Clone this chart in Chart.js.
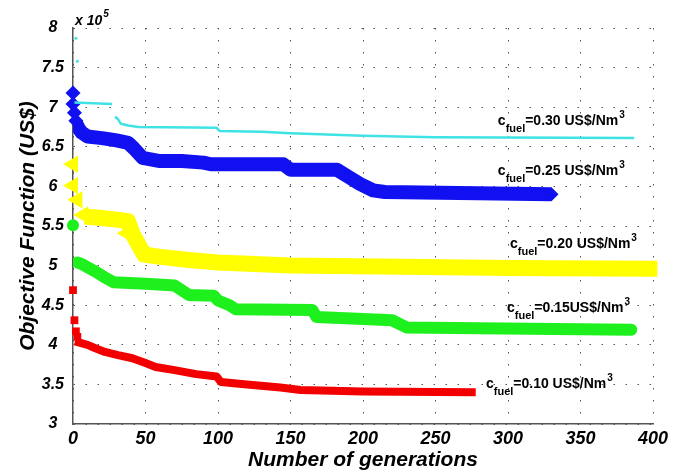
<!DOCTYPE html>
<html><head><meta charset="utf-8">
<script src="https://cdn.jsdelivr.net/npm/chart.js@4/dist/chart.umd.min.js"></script>
<style>html,body{margin:0;padding:0;background:#fff}canvas{display:block}</style>
</head><body>
<canvas id="c" width="674" height="474"></canvas>
<script>
// ---- axes ----
const xMin = 0, xMax = 400, xStep = 50;
const yMin = 3, yMax = 8, yStep = 0.5;
const xTitle = 'Number of generations';
const yTitle = 'Objective Function (US$)';
const yExponent = '5';

// ---- series (generation, objective value x10^5) ----
const seriesNames = ['0.30 US$/Nm', '0.25 US$/Nm', '0.20 US$/Nm', '0.15US$/Nm', '0.10 US$/Nm'];

const cyanGen = [1, 27, 28, 29, 31, 33, 38, 45, 99, 101, 130, 150, 200, 250, 387];
const cyanVal = [7.06, 7.04, null, 6.88, 6.85, 6.79, 6.77, 6.75, 6.74, 6.70, 6.69, 6.67, 6.64, 6.62, 6.61];
const cyanDotGen = [2, 3];
const cyanDotVal = [7.87, 7.58];

const blueGen = [2, 4, 6, 10, 20, 30, 38, 42, 48, 60, 75, 90, 95, 145, 150, 182, 190, 198, 207, 215, 330];
const blueVal = [6.80, 6.73, 6.68, 6.63, 6.61, 6.58, 6.55, 6.48, 6.36, 6.32, 6.32, 6.30, 6.28, 6.28, 6.21, 6.21, 6.12, 6.03, 5.95, 5.93, 5.90];
const blueStartGen = [0, 0, 1, 2];
const blueStartVal = [7.18, 7.04, 6.93, 6.83];

const yellowGen = [8, 20, 30, 38, 41, 45, 49, 60, 80, 100, 150, 212, 300, 403];
const yellowVal = [5.62, 5.60, 5.58, 5.56, 5.40, 5.27, 5.14, 5.11, 5.07, 5.04, 5.00, 4.99, 4.97, 4.96];
const yellowStartGen = [0, 0, 3, 7, 37];
const yellowStartVal = [6.28, 6.01, 5.83, 5.64, 5.41];

const greenGen = [3, 6, 10, 16, 22, 28, 50, 70, 75, 80, 97, 100, 108, 112, 165, 168, 220, 230, 280, 385];
const greenVal = [5.04, 5.02, 4.98, 4.92, 4.85, 4.79, 4.77, 4.75, 4.69, 4.63, 4.62, 4.56, 4.50, 4.45, 4.44, 4.35, 4.31, 4.22, 4.21, 4.19];
const greenStartGen = [0];
const greenStartVal = [5.51];

const redGen = [4, 10, 15, 22, 31, 41, 50, 57, 70, 85, 99, 102, 120, 143, 157, 200, 275];
const redVal = [4.03, 4.00, 3.96, 3.91, 3.87, 3.83, 3.77, 3.72, 3.68, 3.63, 3.60, 3.53, 3.50, 3.46, 3.43, 3.41, 3.40];
const redStartGen = [0, 1, 2, 3];
const redStartVal = [4.69, 4.31, 4.17, 4.10];

// label anchors in data space (generation, value)
const labelGen = [293, 293, 301.4, 299.3, 284.8];
const labelVal = [6.775, 6.144, 5.222, 4.42, 3.455];

const pts = (g, v) => g.map((x, i) => ({x: x, y: v[i]}));

const FONT = '"Liberation Sans", Arial, Helvetica, sans-serif';
Chart.defaults.font.family = FONT;
Chart.defaults.color = '#000';

const lineDs = (g, v, color, w, cap, extra) => Object.assign({
  type: 'line', data: pts(g, v), borderColor: color, backgroundColor: color,
  borderWidth: w, borderCapStyle: cap, borderJoinStyle: 'round', tension: 0,
  pointRadius: 0, spanGaps: false, fill: false
}, extra || {});
const markDs = (g, v, color, style, r, rot) => ({
  type: 'line', data: pts(g, v), showLine: false, pointStyle: style, pointRadius: r,
  pointRotation: rot || 0, pointBackgroundColor: color, pointBorderColor: color,
  pointBorderWidth: 0, clip: false
});

const C_CYAN = '#3fe3e6', C_BLUE = '#1010f0', C_YEL = '#ffff00', C_GRN = '#1ef01e', C_RED = '#f20000';

const annot = {
  id: 'annot',
  afterDatasetsDraw(chart) {
    const ctx = chart.ctx, xs = chart.scales.x, ys = chart.scales.y;
    ctx.save();
    ctx.fillStyle = '#000';
    ctx.textBaseline = 'alphabetic';
    ctx.textAlign = 'left';
    for (let i = 0; i < seriesNames.length; i++) {
      let x = xs.getPixelForValue(labelGen[i]);
      const y = ys.getPixelForValue(labelVal[i]);
      ctx.font = 'bold 14px ' + FONT;
      ctx.fillText('c', x, y); x += ctx.measureText('c').width;
      ctx.font = 'bold 11px ' + FONT;
      ctx.fillText('fuel', x, y + 7); x += ctx.measureText('fuel').width;
      ctx.font = 'bold 14px ' + FONT;
      const t = '=' + seriesNames[i];
      ctx.fillText(t, x, y); x += ctx.measureText(t).width;
      ctx.font = 'bold 10px ' + FONT;
      ctx.fillText('3', x + 1, y - 7);
    }
    // exponent
    let ex = chart.chartArea.left + 2, ey = chart.chartArea.top - 3;
    ctx.font = 'italic bold 14px ' + FONT;
    ctx.fillText('x 10', ex, ey); ex += ctx.measureText('x 10').width;
    ctx.font = 'italic bold 10px ' + FONT;
    ctx.fillText(yExponent, ex + 1, ey - 8);
    ctx.restore();
  }
};

new Chart(document.getElementById('c'), {
  data: {
    datasets: [
      markDs(cyanDotGen, cyanDotVal, C_CYAN, 'circle', 1.5),
      lineDs(cyanGen, cyanVal, C_CYAN, 2.5, 'butt'),
      markDs(blueStartGen, blueStartVal, C_BLUE, 'rectRot', 7.5),
      lineDs(blueGen, blueVal, C_BLUE, 14, 'butt', {
        pointStyle: 'rectRot', pointBorderWidth: 0, pointBackgroundColor: C_BLUE,
        pointRadius: c => c.dataIndex === blueGen.length - 1 ? 7 : 0
      }),
      markDs(yellowStartGen, yellowStartVal, C_YEL, 'triangle', 10, -90),
      lineDs(yellowGen, yellowVal, C_YEL, 16, 'butt', {clip: false}),
      markDs(greenStartGen, greenStartVal, C_GRN, 'circle', 6),
      lineDs(greenGen, greenVal, C_GRN, 12, 'round'),
      markDs(redStartGen, redStartVal, C_RED, 'rect', 5.5),
      lineDs(redGen, redVal, C_RED, 8, 'square')
    ]
  },
  options: {
    responsive: false, animation: false, events: [],
    layout: {padding: {top: 28, right: 21, bottom: 0, left: 0}},
    plugins: {legend: {display: false}, tooltip: {enabled: false}},
    scales: {
      x: {
        type: 'linear', min: xMin, max: xMax,
        afterFit: s => { s.height = 50; },
        ticks: {stepSize: xStep, padding: 4, font: {size: 18, weight: 'bold', style: 'italic'}, color: '#000', maxRotation: 0},
        grid: {color: '#555', lineWidth: 1, drawTicks: false},
        border: {display: true, color: '#555', width: 1.5, dash: [1.5, 10.5]},
        title: {display: true, text: xTitle, color: '#000', padding: {top: 0, bottom: 1},
          font: {size: 21, weight: 'bold', style: 'italic'}}
      },
      y: {
        type: 'linear', min: yMin, max: yMax,
        afterFit: s => { s.width = 73; },
        ticks: {stepSize: yStep, padding: 9, crossAlign: 'center', font: {size: 16, weight: 'bold', style: 'italic'}, color: '#000',
          callback: v => String(v)},
        grid: {color: '#555', lineWidth: 1, drawTicks: false},
        border: {display: true, color: '#555', width: 1.5, dash: [1.5, 10.5]},
        title: {display: true, text: yTitle, color: '#000', padding: {top: 16, bottom: 0},
          font: {size: 21, weight: 'bold', style: 'italic'}}
      }
    }
  },
  plugins: [annot]
});
</script>
</body></html>
